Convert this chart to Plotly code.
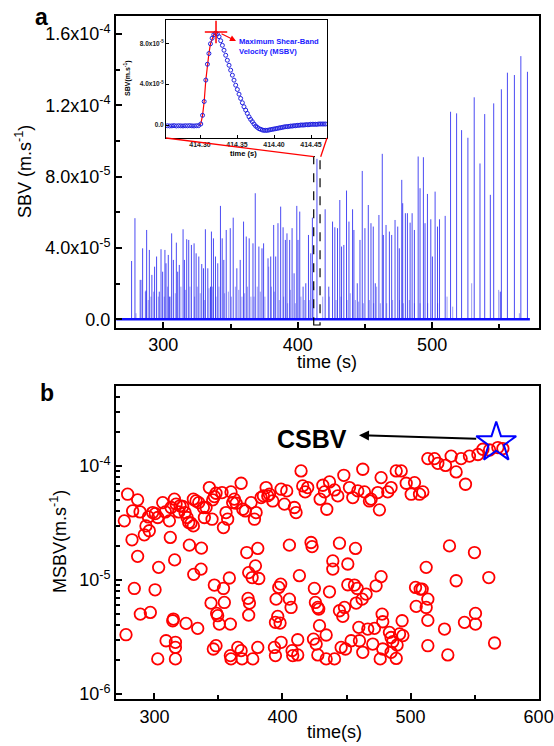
import plotly.graph_objects as go

FONT = "Arial, 'Liberation Sans', sans-serif"
W, H = 554, 746

# ---------------- Panel a : shear-band velocity vs time ----------------
spike_time = [276.4, 278.9, 282.8, 284.6, 287.1, 287.6, 289.6, 291.5, 293.5, 295.0,
              297.0, 298.3, 299.5, 301.2, 302.0, 303.7, 304.5, 306.2, 307.5, 309.7,
              310.7, 311.9, 314.7, 315.7, 317.4, 318.9, 320.9, 322.9, 324.4, 326.4,
              328.6, 329.9, 331.3, 333.1, 335.1, 335.8, 337.3, 338.8, 340.5, 342.5,
              343.8, 345.0, 346.8, 349.8, 352.0, 354.7, 357.2, 359.7, 361.7, 363.9,
              366.7, 368.4, 371.1, 373.4, 374.6, 377.9, 379.9, 382.1, 383.6, 385.3,
              387.3, 389.1, 390.8, 392.0, 394.0, 395.8, 397.3, 399.3, 400.2, 401.5,
              404.0, 406.0, 408.0, 409.7, 410.9, 414.3, 420.4, 423.1, 425.9, 427.6,
              429.6, 431.3, 432.6, 434.3, 436.3, 438.1, 440.8, 441.8, 444.3, 446.3,
              448.0, 450.0, 452.5, 454.5, 456.2, 457.7, 460.4, 462.9, 463.7, 465.7,
              468.2, 469.9, 472.4, 474.4, 475.6, 477.4, 478.1, 480.1, 481.6, 483.6,
              485.1, 486.8, 489.6, 491.0, 493.5, 494.7, 496.5, 499.0, 500.2, 502.2,
              504.0, 505.5, 509.7, 513.7, 518.2, 521.9, 526.6, 531.3, 535.6, 539.1,
              543.3, 545.8, 550.7, 551.5, 556.0, 561.2, 566.0, 570.9]
spike_height = [3.27e-5, 5.67e-5, 2.21e-5, 3.98e-5, 1.61e-5, 5.01e-5, 3.89e-5, 2.49e-5, 2.95e-5, 3.52e-5,
                1.55e-5, 3.93e-5, 2.67e-5, 3.89e-5, 3.14e-5, 3.61e-5, 1.27e-5, 4.82e-5, 3.33e-5, 4.30e-5,
                2.67e-5, 3.05e-5, 5.05e-5, 3.33e-5, 4.49e-5, 4.45e-5, 4.17e-5, 4.26e-5, 3.70e-5, 3.52e-5,
                3.10e-5, 2.86e-5, 5.05e-5, 2.86e-5, 1.83e-5, 4.92e-5, 4.54e-5, 3.52e-5, 3.14e-5, 6.36e-5,
                4.54e-5, 3.33e-5, 5.01e-5, 5.11e-5, 5.70e-5, 2.86e-5, 3.33e-5, 5.48e-5, 4.64e-5, 4.54e-5,
                4.26e-5, 7.07e-5, 4.08e-5, 3.98e-5, 4.26e-5, 3.42e-5, 3.52e-5, 5.29e-5, 3.52e-5, 5.39e-5,
                6.32e-5, 5.16e-5, 4.45e-5, 4.82e-5, 4.45e-5, 5.11e-5, 2.58e-5, 6.36e-5, 4.45e-5, 6.04e-5,
                1.83e-5, 2.02e-5, 4.73e-5, 3.70e-5, 5.70e-5, 9.00e-5, 6.17e-5, 1.83e-5, 5.48e-5, 5.16e-5,
                5.11e-5, 6.69e-5, 4.08e-5, 4.17e-5, 7.22e-5, 5.48e-5, 6.17e-5, 5.01e-5, 2.02e-5, 4.45e-5,
                8.32e-5, 5.11e-5, 6.41e-5, 5.39e-5, 5.20e-5, 2.02e-5, 5.85e-5, 9.28e-5, 4.73e-5, 5.29e-5,
                4.92e-5, 4.73e-5, 5.57e-5, 5.20e-5, 3.98e-5, 7.82e-5, 6.51e-5, 5.95e-5, 5.95e-5, 5.42e-5,
                5.95e-5, 5.01e-5, 9.13e-5, 7.35e-5, 9.09e-5, 5.39e-5, 7.03e-5, 5.61e-5, 3.52e-5, 7.16e-5,
                5.20e-5, 5.61e-5, 5.80e-5, 1.164e-4, 1.155e-4, 1.061e-4, 1.018e-4, 1.245e-4, 8.74e-5, 1.151e-4,
                6.98e-5, 1.211e-4, 1.55e-5, 1.29e-4, 1.383e-4, 1.37e-4, 1.476e-4, 1.388e-4]

small_spike_time = [279.7, 283.6, 286.6, 288.8, 290.8, 292.8, 296.3, 300.7, 303.2, 305.2,
                    308.9, 313.1, 316.4, 319.8, 323.3, 325.3, 327.5, 330.8, 334.0, 336.5,
                    339.2, 341.4, 345.6, 348.4, 350.6, 353.6, 356.1, 358.5, 360.5, 362.7,
                    365.2, 367.5, 369.9, 372.2, 375.6, 378.4, 380.4, 382.6, 386.3, 389.5,
                    392.5, 394.5, 398.2, 402.4, 404.9, 408.6, 411.9, 418.6, 423.5, 428.5,
                    432.2, 436.7, 439.1, 442.9, 445.3, 448.8, 453.3, 456.5, 458.7, 461.5,
                    466.2, 470.6, 475.8, 478.6, 483.0, 486.8, 491.0, 496.7, 504.1, 511.1,
                    515.3, 529.4, 549.5, 564.9]
small_spike_height = [3.4e-6, 2.21e-5, 1.55e-5, 1.08e-5, 1.27e-5, 1.55e-5, 1.27e-5, 1.27e-5, 1.83e-5, 1.27e-5,
                      1.46e-5, 1.83e-5, 1.65e-5, 1.83e-5, 1.27e-5, 1.83e-5, 1.46e-5, 1.08e-5, 1.74e-5, 1.83e-5,
                      1.27e-5, 1.83e-5, 1.46e-5, 1.55e-5, 1.27e-5, 1.83e-5, 1.65e-5, 1.27e-5, 1.46e-5, 1.83e-5,
                      1.27e-5, 1.27e-5, 1.83e-5, 1.55e-5, 1.27e-5, 2.95e-5, 1.83e-5, 1.55e-5, 1.08e-5, 1.27e-5,
                      9.0e-6, 1.65e-5, 9.0e-6, 1.27e-5, 1.08e-5, 1.08e-5, 1.83e-5, 1.27e-5, 1.27e-5, 1.08e-5,
                      1.27e-5, 1.08e-5, 1.46e-5, 1.08e-5, 9.9e-6, 9.0e-6, 1.08e-5, 9.0e-6, 1.83e-5, 9.0e-6,
                      9.0e-6, 1.08e-5, 1.08e-5, 9.0e-6, 1.08e-5, 9.0e-6, 9.0e-6, 9.0e-6, 9.0e-6, 1.27e-5,
                      7.1e-6, 2.02e-5, 1.65e-5, 3.4e-6]

baseline_time = [265.0, 572.7]
baseline_value = [0.0, 0.0]

a_xticks = [300, 400, 500]
a_xminor = [350, 450, 550]
a_yticks = [0, 4e-5, 8e-5, 1.2e-4, 1.6e-4]
a_ytext = ["0.0", "4.0x10<sup>-5</sup>", "8.0x10<sup>-5</sup>",
           "1.2x10<sup>-4</sup>", "1.6x10<sup>-4</sup>"]
a_yminor = [2e-5, 6e-5, 1e-4, 1.4e-4]

# zoom window shown in the inset
zoom_window_time = [411.9, 416.6]
zoom_window_sbv = [-3.2e-6, 9.13e-5]

# ---------------- Inset : one shear-band event ----------------
inset_time = [414.256, 414.259, 414.262, 414.265, 414.268, 414.271, 414.274, 414.277,
              414.280, 414.283, 414.286, 414.289, 414.292, 414.295, 414.298,
              414.3010, 414.3034, 414.3056, 414.3078, 414.3100, 414.3120, 414.3141,
              414.3163, 414.3186, 414.3210,
              414.3234, 414.3257, 414.3279, 414.3302, 414.3324, 414.3347, 414.3369,
              414.3392, 414.3414, 414.3437, 414.3459, 414.3482, 414.3504, 414.3527,
              414.3549, 414.3572, 414.3594, 414.3617, 414.3639, 414.3662, 414.3684,
              414.3707, 414.3729, 414.3752, 414.3774, 414.3797, 414.3819, 414.3842,
              414.3864, 414.3887, 414.3909, 414.3932, 414.3954, 414.3977, 414.3999,
              414.4022, 414.4044, 414.4067, 414.4089, 414.4112, 414.4134, 414.4157,
              414.4179, 414.4202, 414.4224, 414.4247, 414.4269, 414.4292, 414.4314,
              414.4337, 414.4359, 414.4382, 414.4404, 414.4427, 414.4449, 414.4472,
              414.4494, 414.4517, 414.4539, 414.4562, 414.4584, 414.4607, 414.4629,
              414.4652, 414.4674, 414.4697]
inset_sbv = [-0.7e-6, -0.9e-6, -0.8e-6, -0.6e-6, -0.9e-6, -0.7e-6, -0.8e-6, -0.9e-6,
             -0.7e-6, -0.8e-6, -0.6e-6, -0.8e-6, -0.9e-6, -0.7e-6, -0.6e-6,
             1.0e-6, 9.5e-6, 2.3e-5, 4.4e-5, 5.95e-5, 7.0e-5, 7.95e-5,
             8.5e-5, 8.85e-5, 9.0e-5,
             8.9e-5, 8.65e-5, 8.25e-5, 7.80e-5, 7.32e-5, 6.83e-5, 6.34e-5,
             5.85e-5, 5.37e-5, 4.88e-5, 4.39e-5, 3.90e-5, 3.48e-5, 3.02e-5,
             2.60e-5, 2.18e-5, 1.79e-5, 1.46e-5, 1.14e-5, 8.1e-6, 5.5e-6,
             3.3e-6, 1.0e-6, -1.0e-6, -2.3e-6, -3.6e-6, -4.2e-6, -4.9e-6,
             -5.2e-6, -5.2e-6, -5.2e-6, -4.9e-6, -4.5e-6, -4.2e-6, -3.9e-6,
             -3.6e-6, -3.3e-6, -2.9e-6, -2.6e-6, -2.3e-6, -1.9e-6, -1.6e-6,
             -1.6e-6, -1.3e-6, -1.0e-6, -1.0e-6, -0.7e-6, -0.7e-6, -0.3e-6,
             -0.3e-6, 0.0, 0.0, 0.0, 0.3e-6, 0.3e-6, 0.3e-6,
             0.7e-6, 0.7e-6, 0.7e-6, 0.7e-6, 0.7e-6, 1.0e-6, 1.0e-6,
             1.0e-6, 1.0e-6, 1.0e-6]
rise_time = [414.298, 414.3010, 414.3034, 414.3056, 414.3078, 414.3100, 414.3120,
             414.3141, 414.3163, 414.3186, 414.3210]
rise_sbv = [-0.6e-6, 1.0e-6, 9.5e-6, 2.3e-5, 4.4e-5, 5.95e-5, 7.0e-5,
            7.95e-5, 8.5e-5, 8.85e-5, 9.0e-5]
msbv_peak_time = [414.3216]
msbv_peak_sbv = [9.1e-5]

inset_xticks = [414.30, 414.35, 414.40, 414.45]
inset_xtext = ["414.30", "414.35", "414.40", "414.45"]
inset_yticks = [0, 4e-5, 8e-5]
inset_ytext = ["0.0", "4.0x10<sup>-5</sup>", "8.0x10<sup>-5</sup>"]

# ---------------- Panel b : maximum shear-band velocity ----------------
msbv_time = [276.5, 279.1, 283.0, 282.5, 286.9, 286.9, 288.8, 284.3, 289.0, 277.8,
             292.1, 293.4, 295.3, 296.0, 296.8, 298.6, 300.7, 302.6, 300.5, 303.3,
             302.6, 306.5, 308.5, 309.1, 311.7, 312.4, 313.0, 314.3, 314.8, 315.8,
             316.4, 316.4, 316.4, 315.6, 316.9, 319.0, 320.0, 322.1, 323.9, 324.7,
             325.5, 326.8, 327.3, 328.6, 330.4, 330.7, 330.4, 332.5, 333.8, 334.6,
             336.4, 336.7, 338.2, 339.0, 340.3, 342.9, 345.0, 345.5, 346.8, 348.1,
             346.8, 344.2, 346.0, 348.1, 348.6, 349.4, 350.7, 352.8, 353.9, 354.6,
             353.9, 355.9, 357.2, 358.5, 359.3, 359.8, 361.1, 359.3, 359.8, 362.4,
             363.8, 365.1, 367.7, 367.7, 368.4, 369.0, 371.0, 372.1, 373.6, 373.1,
             373.6, 374.2, 375.5, 376.3, 376.8, 378.1, 378.9, 380.7, 380.7, 381.5,
             379.4, 383.3, 385.1, 387.2, 388.5, 389.8, 392.4, 395.0, 394.5, 393.7,
             394.5, 396.3, 397.1, 398.1, 398.6, 398.9, 398.9, 401.5, 403.3, 405.4,
             405.4, 406.7, 407.5, 408.0, 410.6, 409.3, 411.9, 411.9, 413.2, 414.5,
             415.8, 417.7, 419.7, 422.3, 423.1, 424.2, 424.9, 425.7, 426.3, 427.6,
             427.6, 428.3, 428.9, 429.4, 431.5, 432.8, 434.1, 434.6, 434.1, 436.7,
             436.7, 439.3, 439.3, 440.6, 440.6, 443.2, 444.5, 444.5, 445.8, 447.1,
             447.9, 448.4, 449.2, 451.0, 451.0, 452.3, 453.6, 454.9, 457.0, 456.2,
             457.5, 458.3, 458.8, 459.6, 460.1, 462.2, 462.7, 462.7, 464.0, 465.3,
             466.6, 467.9, 469.2, 470.5, 471.8, 473.1, 474.4, 475.7, 476.3, 477.0,
             477.0, 477.8, 478.3, 478.3, 482.2, 483.5, 484.8, 484.8, 484.8, 486.1,
             488.8, 488.8, 489.5, 491.4, 492.7, 493.4, 494.0, 496.6, 500.5, 503.1,
             503.9, 504.4, 507.0, 507.5, 509.1, 509.6, 512.2, 512.2, 513.5, 513.5,
             513.5, 513.5, 518.7, 521.3, 526.5, 527.3, 529.1, 530.4, 531.7, 535.6,
             535.6, 539.5, 542.9, 542.1, 546.0, 549.9, 550.7, 550.7, 552.6, 556.5,
             561.1, 561.7, 565.6, 568.2, 572.1]
msbv_value = [3.30e-5, 5.65e-5, 4.03e-5, 2.25e-5, 1.61e-5, 5.04e-5, 3.95e-5, 8.42e-6, 5.02e-6, 3.31e-6,
              2.49e-5, 2.98e-5, 3.57e-5, 2.70e-5, 5.19e-6, 3.90e-5, 3.82e-5, 3.53e-5, 8.20e-6, 1.29e-5,
              2.03e-6, 4.77e-5, 3.95e-5, 2.93e-6, 3.30e-5, 2.36e-5, 4.32e-5, 4.39e-6, 4.54e-6, 1.50e-5,
              2.84e-6, 2.56e-6, 2.03e-6, 5.11e-5, 4.62e-5, 3.95e-5, 4.47e-5, 4.41e-5, 3.90e-5, 4.16e-6,
              3.53e-5, 3.19e-5, 2.02e-5, 3.15e-5, 2.98e-5, 1.12e-5, 5.11e-5, 4.93e-5, 3.76e-6, 4.77e-5,
              1.245e-5, 1.90e-5, 4.32e-5, 3.53e-5, 4.32e-5, 6.46e-5, 3.41e-5, 5.04e-5, 5.39e-5, 5.76e-5,
              9.02e-6, 6.27e-6, 2.48e-6, 2.65e-6, 5.09e-6, 4.86e-6, 4.10e-6, 5.84e-5, 8.42e-6, 6.35e-6,
              2.88e-5, 3.90e-5, 3.41e-5, 1.04e-5, 4.10e-6, 5.92e-5, 4.77e-5, 2.17e-6, 2.03e-6, 5.11e-5,
              4.71e-5, 2.56e-6, 7.05e-5, 2.40e-6, 2.03e-6, 4.17e-5, 4.03e-5, 1.74e-5, 1.16e-5, 6.89e-6,
              4.92e-6, 6.27e-6, 4.77e-5, 1.05e-5, 2.03e-6, 3.41e-5, 1.33e-5, 1.89e-5, 2.56e-6, 1.03e-5,
              3.90e-5, 5.28e-5, 5.46e-5, 6.46e-5, 5.46e-5, 5.65e-5, 4.93e-5, 6.79e-6, 4.25e-6, 2.56e-6,
              2.17e-6, 4.79e-6, 8.60e-6, 4.19e-6, 9.20e-6, 2.84e-6, 6.25e-5, 4.62e-5, 6.04e-5, 2.02e-5,
              6.79e-6, 5.74e-6, 2.40e-6, 2.17e-6, 3.90e-5, 4.32e-5, 2.20e-6, 2.99e-6, 1.09e-5, 9.04e-5,
              6.68e-5, 5.92e-5, 6.46e-5, 2.13e-5, 1.96e-5, 3.03e-6, 8.42e-6, 6.35e-6, 2.74e-6, 2.20e-6,
              5.74e-6, 5.55e-6, 3.97e-6, 5.11e-5, 6.77e-5, 5.92e-5, 3.29e-6, 4.17e-5, 2.03e-6, 7.24e-5,
              7.87e-6, 1.47e-5, 1.245e-5, 2.03e-6, 6.16e-5, 5.46e-5, 2.10e-5, 5.37e-6, 2.56e-6, 4.79e-6,
              8.28e-5, 5.74e-6, 2.48e-6, 1.38e-5, 9.08e-6, 6.46e-5, 2.93e-6, 5.28e-5, 1.89e-5, 9.02e-6,
              6.27e-6, 8.42e-6, 6.04e-5, 3.84e-6, 2.93e-6, 6.79e-6, 9.35e-5, 2.32e-6, 5.92e-5, 7.52e-6,
              3.71e-6, 4.93e-5, 5.11e-5, 2.74e-6, 3.76e-6, 8.89e-6, 5.84e-5, 4.12e-5, 2.03e-6, 7.90e-5,
              1.07e-5, 5.02e-6, 4.30e-6, 2.48e-6, 5.92e-5, 3.47e-6, 6.46e-5, 3.13e-6, 2.32e-6, 2.87e-6,
              2.05e-6, 9.04e-5, 2.69e-6, 3.36e-6, 9.04e-5, 4.39e-6, 3.25e-6, 7.05e-5, 5.65e-5, 7.14e-5,
              8.60e-6, 5.86e-6, 5.65e-5, 8.31e-6, 8.31e-6, 5.92e-5, 1.29e-5, 5.74e-6, 2.65e-6, 6.79e-6,
              4.42e-6, 1.16e-4, 1.16e-4, 1.055e-4, 3.71e-6, 1.01e-4, 2.20e-6, 1.99e-5, 1.22e-4, 8.86e-5,
              9.84e-6, 1.16e-4, 6.91e-5, 4.25e-6, 1.22e-4, 1.74e-5, 5.09e-6, 4.10e-6, 1.26e-4, 1.40e-4,
              1.05e-5, 1.38e-4, 2.80e-6, 1.45e-4, 1.42e-4]
csbv_time = [566.9]
csbv_value = [1.6e-4]

b_xticks = [300, 400, 500, 600]
b_xminor = [350, 450, 550]
b_yticks = [1e-6, 1e-5, 1e-4]
b_ytext = ["10<sup>-6</sup>", "10<sup>-5</sup>", "10<sup>-4</sup>"]
b_yminor = [m * 10.0 ** e for e in (-6, -5, -4) for m in range(2, 10)]


def stems(ts, hs):
    xs, ys = [], []
    for t, h in zip(ts, hs):
        xs += [t, t, None]
        ys += [0, h, None]
    return xs, ys


def px(x):
    """page pixel x -> paper fraction"""
    return x / W


def py(y):
    """page pixel y -> paper fraction"""
    return 1 - y / H


fig = go.Figure()

sx, sy = stems(small_spike_time, small_spike_height)
fig.add_trace(go.Scatter(x=sx, y=sy, mode="lines", xaxis="x", yaxis="y",
                         line=dict(color="rgba(60,60,235,0.5)", width=1),
                         hoverinfo="skip", showlegend=False))
mx, my = stems(spike_time, spike_height)
fig.add_trace(go.Scatter(x=mx, y=my, mode="lines", xaxis="x", yaxis="y",
                         line=dict(color="rgba(30,30,240,0.8)", width=1),
                         hoverinfo="skip", showlegend=False))
fig.add_trace(go.Scatter(x=baseline_time, y=baseline_value, mode="lines",
                         xaxis="x", yaxis="y",
                         line=dict(color="#1010ff", width=2.5), showlegend=False))

# inset
fig.add_trace(go.Scatter(x=rise_time, y=rise_sbv, mode="lines", xaxis="x3", yaxis="y3",
                         line=dict(color="red", width=1.2), showlegend=False))
fig.add_trace(go.Scatter(x=inset_time, y=inset_sbv, mode="markers", xaxis="x3", yaxis="y3",
                         marker=dict(symbol="circle-open", size=4, color="#2020e0",
                                     line=dict(width=1, color="#2020e0")),
                         showlegend=False))
fig.add_trace(go.Scatter(x=msbv_peak_time, y=msbv_peak_sbv, mode="markers",
                         xaxis="x3", yaxis="y3",
                         marker=dict(symbol="cross-thin", size=16,
                                     line=dict(width=1.5, color="red")),
                         showlegend=False))

# panel b
fig.add_trace(go.Scatter(x=msbv_time, y=msbv_value, mode="markers", xaxis="x2", yaxis="y2",
                         marker=dict(symbol="circle-open", size=11.5, color="red",
                                     line=dict(width=1.8, color="red")),
                         showlegend=False))
fig.add_trace(go.Scatter(x=csbv_time, y=csbv_value, mode="markers", xaxis="x2", yaxis="y2",
                         marker=dict(symbol="star-open", size=30, color="blue",
                                     line=dict(width=2, color="blue")),
                         showlegend=False))

tickfont = dict(family=FONT, size=18, color="black")
axis_common = dict(showline=True, linecolor="black", mirror=True, ticks="inside",
                   tickcolor="black", showgrid=False, zeroline=False, automargin=False)

fig.update_layout(
    width=W, height=H,
    margin=dict(l=0, r=0, t=0, b=0),
    paper_bgcolor="white", plot_bgcolor="white",
    font=dict(family=FONT, color="black"),
    xaxis=dict(domain=[px(116), px(539)], anchor="y", range=[264.8, 579.5],
               tickmode="array", tickvals=a_xticks, ticktext=[str(v) for v in a_xticks],
               ticklen=6, tickwidth=1.5, linewidth=2, tickfont=tickfont,
               minor=dict(tickmode="array", tickvals=a_xminor, ticks="inside",
                          ticklen=4, tickwidth=1.5, tickcolor="black"),
               **axis_common),
    yaxis=dict(domain=[py(327.5), py(16)], anchor="x", range=[-4.6e-6, 1.701e-4],
               tickmode="array", tickvals=a_yticks, ticktext=a_ytext,
               ticklen=6, tickwidth=1.5, linewidth=2, tickfont=tickfont,
               minor=dict(tickmode="array", tickvals=a_yminor, ticks="inside",
                          ticklen=4, tickwidth=1.5, tickcolor="black"),
               **axis_common),
    xaxis2=dict(domain=[px(116), px(539)], anchor="y2", range=[270, 600.3],
                tickmode="array", tickvals=b_xticks, ticktext=[str(v) for v in b_xticks],
                ticklen=6, tickwidth=1.5, linewidth=2, tickfont=tickfont,
                minor=dict(tickmode="array", tickvals=b_xminor, ticks="inside",
                           ticklen=4, tickwidth=1.5, tickcolor="black"),
                **axis_common),
    yaxis2=dict(domain=[py(699), py(386)], anchor="x2", type="log", range=[-6.044, -3.299],
                tickmode="array", tickvals=b_yticks, ticktext=b_ytext,
                ticklen=6, tickwidth=1.5, linewidth=2, tickfont=tickfont,
                minor=dict(tickmode="array", tickvals=b_yminor, ticks="inside",
                           ticklen=4, tickwidth=1.5, tickcolor="black"),
                **axis_common),
    xaxis3=dict(domain=[px(166), px(327)], anchor="y3", range=[414.254, 414.4716],
                tickmode="array", tickvals=inset_xticks, ticktext=[f"<b>{t}</b>" for t in inset_xtext],
                ticklen=3, tickwidth=1, linewidth=1,
                tickfont=dict(family=FONT, size=7, color="#222"),
                **axis_common),
    yaxis3=dict(domain=[py(138), py(20)], anchor="x3", range=[-1.27e-5, 1.028e-4],
                tickmode="array", tickvals=inset_yticks, ticktext=[f"<b>{t}</b>" for t in inset_ytext],
                ticklen=3, tickwidth=1, linewidth=1,
                tickfont=dict(family=FONT, size=6.5, color="#222"),
                **axis_common),
)

shapes = [
    dict(type="rect", xref="x", yref="y",
         x0=zoom_window_time[0], x1=zoom_window_time[1],
         y0=zoom_window_sbv[0], y1=zoom_window_sbv[1],
         line=dict(color="black", width=1.2, dash="dash")),
    dict(type="line", xref="paper", yref="paper", x0=px(166), y0=py(138),
         x1=px(313.7), y1=py(156.7), line=dict(color="red", width=1.3)),
    dict(type="line", xref="paper", yref="paper", x0=px(327), y0=py(138),
         x1=px(320.7), y1=py(156.7), line=dict(color="red", width=1.3)),
]
fig.update_layout(shapes=shapes)

ann = [
    dict(text="<b>a</b>", x=px(41), y=py(17), font=dict(size=23)),
    dict(text="<b>b</b>", x=px(47), y=py(393), font=dict(size=23)),
    dict(text="SBV (m.s<sup>-1</sup>)", x=px(24), y=py(172), textangle=-90, font=dict(size=18)),
    dict(text="time (s)", x=px(327), y=py(362), font=dict(size=18)),
    dict(text="MSBV(m.s<sup>-1</sup>)", x=px(58), y=py(542), textangle=-90, font=dict(size=18)),
    dict(text="time(s)", x=px(334), y=py(732), font=dict(size=18)),
    dict(text="<b>CSBV</b>", x=px(312), y=py(439), font=dict(size=25)),
    dict(text="<b>SBV(m.s<sup>-1</sup>)</b>", x=px(128), y=py(78), textangle=-90,
         font=dict(size=7)),
    dict(text="<b>time (s)</b>", x=px(243), y=py(153), font=dict(size=7.5)),
    dict(text="<b>Maximum Shear-Band<br>Velocity (MSBV)</b>", x=px(237), y=py(46.5),
         xanchor="left", align="left", font=dict(size=7.6, color="#1a1aff")),
]
annotations = []
for a in ann:
    base = dict(xref="paper", yref="paper", showarrow=False, xanchor="center",
                yanchor="middle")
    base.update(a)
    base["font"] = dict(family=FONT, color=a["font"].get("color", "black"),
                        size=a["font"]["size"])
    annotations.append(base)

# arrow from MSBV peak to its label (inset)
annotations.append(dict(xref="x3", yref="y3", axref="x3", ayref="y3",
                        x=414.3486, y=8.23e-5, ax=414.327, ay=9.0e-5,
                        text="", showarrow=True, arrowhead=2, arrowsize=1,
                        arrowwidth=1.2, arrowcolor="red"))
# arrow from CSBV star to its label (panel b)
annotations.append(dict(xref="paper", yref="paper", x=px(359), y=py(435.3),
                        ax=118.7, ay=3.4, text="", showarrow=True, arrowhead=2,
                        arrowsize=1, arrowwidth=2, arrowcolor="black"))
fig.update_layout(annotations=annotations)

# remove the default 8px page margin so the figure fills the window exactly
fig.write_html("out.html",
               config={"displayModeBar": False},
               post_script="document.body.style.margin='0';"
                           "document.body.style.overflow='hidden';")
